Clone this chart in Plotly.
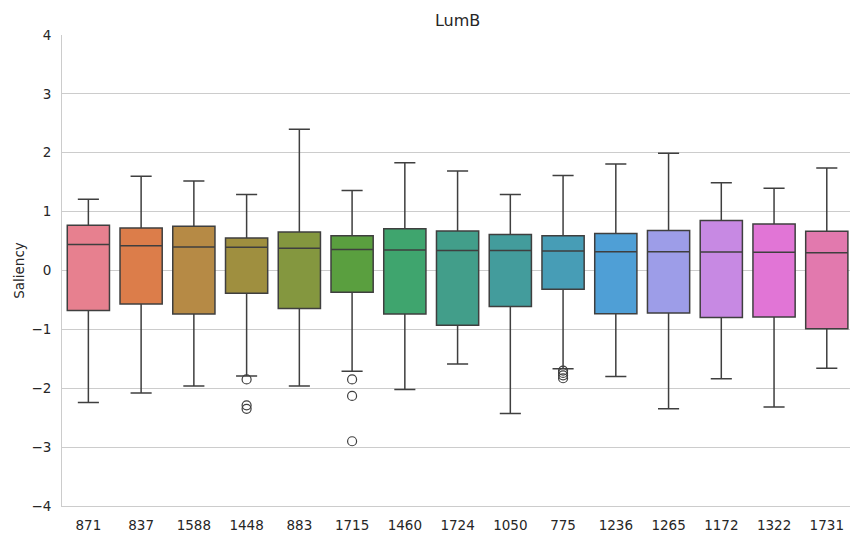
import plotly.graph_objects as go

categories = ["871", "837", "1588", "1448", "883", "1715", "1460", "1724",
              "1050", "775", "1236", "1265", "1172", "1322", "1731"]
upper_whisker = [1.21, 1.60, 1.52, 1.29, 2.40, 1.36, 1.83, 1.69, 1.29, 1.615, 1.81, 1.99, 1.49, 1.395, 1.74]
q3_values = [0.77, 0.72, 0.75, 0.55, 0.655, 0.59, 0.71, 0.67, 0.61, 0.59, 0.63, 0.68, 0.85, 0.79, 0.665]
medians = [0.44, 0.42, 0.40, 0.395, 0.38, 0.355, 0.35, 0.34, 0.34, 0.33, 0.32, 0.32, 0.315, 0.31, 0.30]
q1_values = [-0.68, -0.57, -0.74, -0.385, -0.645, -0.37, -0.74, -0.93, -0.61, -0.32, -0.735, -0.72, -0.80, -0.79, -0.99]
lower_whisker = [-2.24, -2.08, -1.96, -1.79, -1.96, -1.71, -2.02, -1.59, -2.43, -1.67, -1.80, -2.35, -1.84, -2.32, -1.66]

outlier_categories = ["1448", "1448", "1448", "1715", "1715", "1715", "775", "775", "775", "775"]
outlier_values = [-1.85, -2.29, -2.35, -1.85, -2.13, -2.90, -1.70, -1.74, -1.78, -1.83]

colors = ["#e7808f", "#dc7d4a", "#b68a45", "#9f8f3f", "#84973f", "#5a9f3f", "#3fa56e",
          "#429e8a", "#439c9c", "#479db6", "#4f9fd6", "#9d9de8", "#c789e3", "#e175d6", "#e279ae"]

line_col = "#3f3f3f"
fig = go.Figure()
for i, c in enumerate(categories):
    fig.add_trace(go.Box(
        x=[c], q1=[q1_values[i]], median=[medians[i]], q3=[q3_values[i]],
        lowerfence=[lower_whisker[i]], upperfence=[upper_whisker[i]],
        fillcolor=colors[i], line=dict(color=line_col, width=1.5),
        width=0.8, whiskerwidth=0.5, boxpoints=False, showlegend=False,
        hoverinfo="y",
    ))

fig.add_trace(go.Scatter(
    x=outlier_categories, y=outlier_values, mode="markers",
    marker=dict(symbol="circle-open", size=9, color=line_col, line=dict(width=1.2, color=line_col)),
    showlegend=False,
))

text_col = "#262626"
fig.update_layout(
    width=850, height=533,
    margin=dict(l=62, r=0, t=35, b=27, autoexpand=False),
    paper_bgcolor="white", plot_bgcolor="white",
    font=dict(family="DejaVu Sans", size=13.5, color=text_col),
    title=dict(text="LumB", x=0.502, xanchor="center", xref="paper",
               y=1, yref="paper", yanchor="bottom", pad=dict(b=9),
               font=dict(size=16, color=text_col)),
    boxmode="overlay",
    xaxis=dict(type="category", categoryorder="array", categoryarray=categories,
               range=[-0.5, 14.44], showgrid=False, zeroline=False, automargin=False,
               showline=True, linecolor="#cccccc", linewidth=1,
               ticks="outside", ticklen=7, tickcolor="rgba(0,0,0,0)"),
    yaxis=dict(range=[-4, 4], tickvals=[-4, -3, -2, -1, 0, 1, 2, 3, 4], automargin=False,
               showgrid=True, gridcolor="#cccccc", gridwidth=1, zeroline=False,
               showline=True, linecolor="#cccccc", linewidth=1,
               ticks="outside", ticklen=7, tickcolor="rgba(0,0,0,0)",
               title=dict(text="Saliency", standoff=3, font=dict(size=13.5, color=text_col))),
)

fig.write_html("out.html", config={"displayModeBar": False},
               post_script="document.body.style.margin='0';document.body.style.overflow='hidden';")
